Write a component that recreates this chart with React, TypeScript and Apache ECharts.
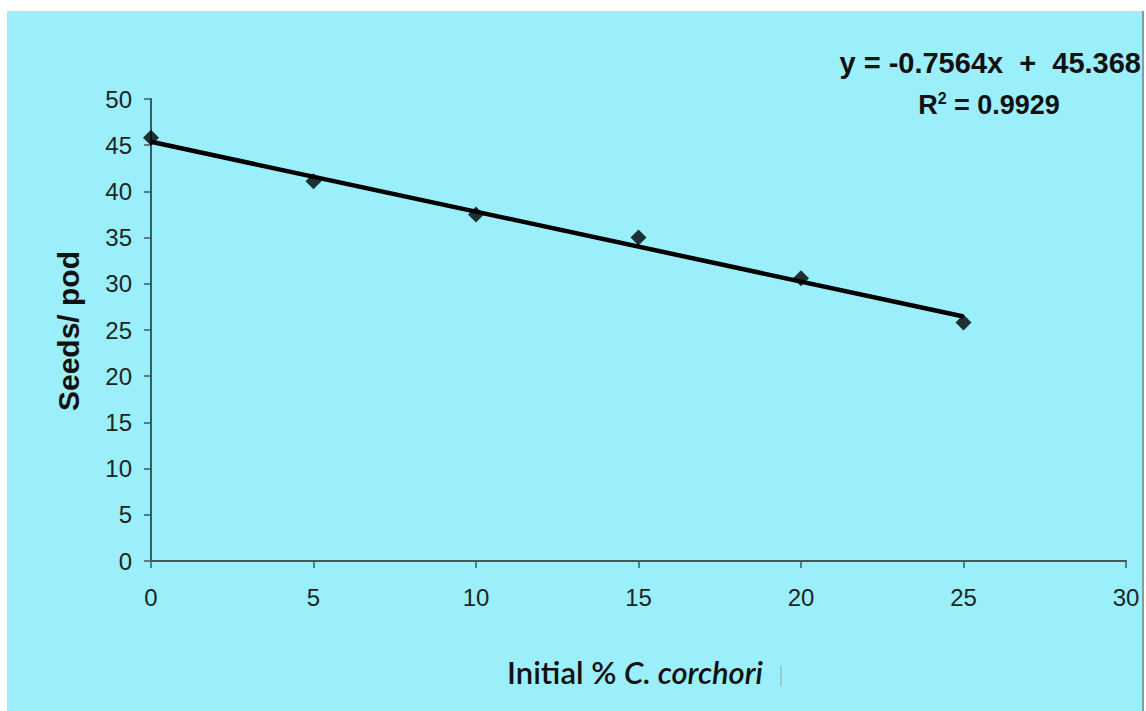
import React, { useEffect, useRef } from "react";
import * as echarts from "echarts";

const xValues = [0, 5, 10, 15, 20, 25];
const seedsPerPod = [45.8, 41.1, 37.5, 35.0, 30.6, 25.8];
const trendX = [0, 25];
const trendY = [45.37, 26.46];
const xTicks = [0, 30, 5];
const yTicks = [0, 50, 5];
const equationText = "y = -0.7564x  +  45.368";
const r2Value = "0.9929";

export default function App() {
  const ref = useRef<HTMLDivElement>(null);
  useEffect(() => {
    if (!ref.current) return;
    const chart = echarts.init(ref.current, null, { renderer: "svg" });
    const axisColor = "#3d5c5c";
    const labelColor = "#1a2626";
    const arial = "'Liberation Sans', Arial, sans-serif";
    chart.setOption({
      animation: false,
      backgroundColor: "#ffffff",
      graphic: [
        { type: "rect", shape: { x: 7, y: 11, width: 1135, height: 700 }, style: { fill: "#9aeffa" }, z: -10 },
        { type: "line", shape: { x1: 1143, y1: 11, x2: 1143, y2: 711 }, style: { stroke: "#8a9a9c", lineWidth: 2 }, z: -9 },
        {
          type: "text", x: 1141, y: 63,
          style: { text: equationText, font: "bold 29px " + arial, fill: "#111", align: "right", verticalAlign: "middle" },
        },
        {
          type: "text", x: 989, y: 105,
          style: {
            text: "{b|R}{s|2}{b| = " + r2Value + "}",
            align: "center", verticalAlign: "middle",
            rich: {
              b: { font: "bold 27px " + arial, fill: "#111" },
              s: { font: "bold 16px " + arial, fill: "#111", verticalAlign: "top", padding: [0, 0, 14, 0] },
            },
          },
        },
        {
          type: "text", x: 68, y: 331, rotation: Math.PI / 2,
          style: { text: "Seeds/ pod", font: "bold 30px " + arial, fill: "#111", align: "center", verticalAlign: "middle" },
        },
        {
          type: "text", x: 635, y: 672,
          style: {
            text: "{n|Initial % }{i|C. corchori}",
            align: "center", verticalAlign: "middle",
            rich: {
              n: { font: "600 31px Lato, 'Open Sans', sans-serif", fill: "#111" },
              i: { font: "italic 600 31px Lato, 'Open Sans', sans-serif", fill: "#111" },
            },
          },
        },
        { type: "line", shape: { x1: 781, y1: 666, x2: 781, y2: 686 }, style: { stroke: "#9aa8aa", lineWidth: 1 } },
      ],
      grid: { left: 151, right: 20, top: 99, bottom: 150, containLabel: false },
      xAxis: {
        type: "value", min: xTicks[0], max: xTicks[1], interval: xTicks[2],
        axisLine: { show: true, lineStyle: { color: axisColor, width: 2 } },
        axisTick: { show: true, length: 7, lineStyle: { color: axisColor, width: 1.5 } },
        splitLine: { show: false },
        axisLabel: { color: labelColor, fontSize: 24, fontFamily: arial, margin: 24 },
      },
      yAxis: {
        type: "value", min: yTicks[0], max: yTicks[1], interval: yTicks[2],
        axisLine: { show: true, lineStyle: { color: axisColor, width: 2 } },
        axisTick: { show: true, length: 7, lineStyle: { color: axisColor, width: 1.5 } },
        splitLine: { show: false },
        axisLabel: { color: labelColor, fontSize: 24, fontFamily: arial, margin: 19 },
      },
      series: [
        {
          type: "line",
          data: trendX.map((x, i) => [x, trendY[i]]),
          showSymbol: false, symbol: "none",
          lineStyle: { color: "#000", width: 4.5 },
          z: 2,
        },
        {
          type: "scatter",
          data: xValues.map((x, i) => [x, seedsPerPod[i]]),
          symbol: "diamond", symbolSize: 16,
          itemStyle: { color: "#000" },
          z: 3,
        },
      ],
    });
    return () => chart.dispose();
  }, []);
  return (
    <div style={{ position: "absolute", left: 0, top: 0, width: 1146, height: 711 }}>
      <div ref={ref} style={{ width: 1146, height: 711 }} />
    </div>
  );
}
